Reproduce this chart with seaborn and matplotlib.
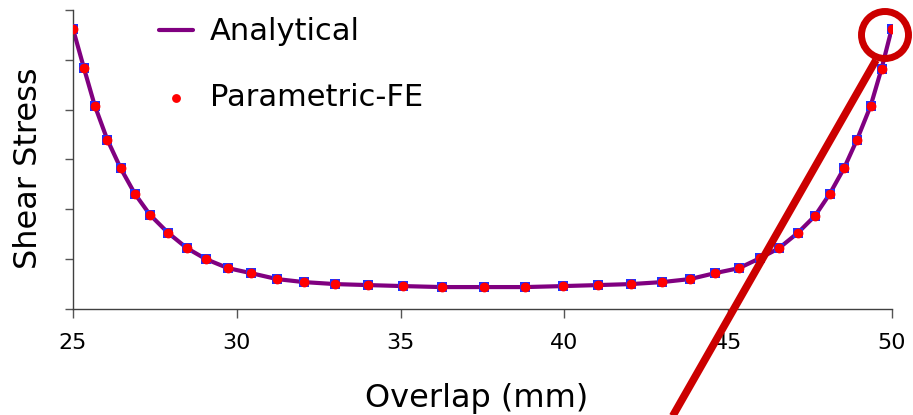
import numpy as np
import pandas as pd
import matplotlib
matplotlib.use("Agg")
import matplotlib.pyplot as plt
import seaborn as sns
from matplotlib.patches import Circle
from matplotlib.lines import Line2D

# ---- data ----
overlap_mm = [25.0, 25.34, 25.66, 26.04, 26.45, 26.89, 27.35, 27.90, 28.48, 29.06,
              29.73, 30.43, 31.23, 32.05, 33.00, 34.00, 35.07, 36.26, 37.55, 38.80,
              39.96, 41.03, 42.03, 42.98, 43.83, 44.60, 45.33, 45.97, 46.55, 47.13,
              47.65, 48.10, 48.54, 48.94, 49.35, 49.68, 49.99]
analytical = [5.62, 4.82, 4.09, 3.41, 2.83, 2.31, 1.89, 1.53, 1.22, 1.00,
              0.82, 0.72, 0.60, 0.54, 0.50, 0.48, 0.46, 0.44, 0.44, 0.44,
              0.46, 0.48, 0.50, 0.54, 0.60, 0.72, 0.82, 1.02, 1.22, 1.53,
              1.87, 2.31, 2.83, 3.41, 4.08, 4.82, 5.62]
parametric_fe = [5.62, 4.83, 4.08, 3.40, 2.82, 2.31, 1.89, 1.53, 1.22, 1.01,
                 0.82, 0.72, 0.61, 0.54, 0.51, 0.48, 0.46, 0.45, 0.45, 0.45,
                 0.46, 0.48, 0.50, 0.54, 0.61, 0.72, 0.82, 1.02, 1.22, 1.53,
                 1.87, 2.31, 2.83, 3.40, 4.08, 4.82, 5.62]
fe_reference = parametric_fe

x_ticks = [25, 30, 35, 40, 45, 50]
y_ticks = [0, 1, 2, 3, 4, 5, 6]

df = pd.DataFrame({"Overlap": overlap_mm, "Analytical": analytical,
                   "FE": parametric_fe, "Ref": fe_reference})

sns.set_style("ticks")
plt.rcParams['font.family'] = ['DejaVu Sans']
plt.rcParams['text.color'] = 'black'
plt.rcParams['axes.labelcolor'] = 'black'
plt.rcParams['xtick.labelcolor'] = 'black'

W, H = 913, 415
fig = plt.figure(figsize=(W / 100, H / 100), dpi=100)
ax = fig.add_axes([73 / W, 1 - 309 / H, (892 - 73) / W, (309 - 10) / H])

PURPLE = "#800080"
sns.lineplot(data=df, x="Overlap", y="Analytical", ax=ax, color=PURPLE,
             linewidth=3.0, label="Analytical", zorder=2)
sns.scatterplot(data=df, x="Overlap", y="Ref", ax=ax, marker="s", color="#2030ff",
                s=42, linewidth=0, legend=False, zorder=3)
sns.scatterplot(data=df, x="Overlap", y="FE", ax=ax, marker="o", color="#ff0000",
                s=50, linewidth=0, label="Parametric-FE", zorder=4)

ax.set_xlim(25, 50)
ax.set_ylim(0, 6)
ax.set_xticks(x_ticks)
ax.set_xticklabels([str(t) for t in x_ticks])
ax.set_yticks(y_ticks)
ax.set_yticklabels([])
ax.tick_params(axis="x", length=6.5, width=1.0, color="#555555", pad=11,
               labelsize=16, labelcolor="black")
ax.tick_params(axis="y", length=6, width=1.0, color="#555555")
for s in ["top", "right"]:
    ax.spines[s].set_visible(False)
for s in ["left", "bottom"]:
    ax.spines[s].set_color("#404040")
    ax.spines[s].set_linewidth(1.0)

ax.set_xlabel("Overlap (mm)", fontsize=23, color="black")
ax.set_ylabel("Shear Stress", fontsize=23, color="black")
ax.xaxis.set_label_coords((476.5 - 73) / (892 - 73), -(398 - 309) / (309 - 10))
ax.xaxis.label.set_va("center")
ax.yaxis.set_label_coords(-(73 - 29) / (892 - 73), (309 - 168) / (309 - 10))
ax.yaxis.label.set_va("center")

leg = ax.legend(loc="upper left", bbox_to_anchor=(138 / W, 1 + 4 / H),
                bbox_transform=fig.transFigure, frameon=False, fontsize=22,
                handlelength=1.1, handletextpad=0.55, labelspacing=1.2,
                borderpad=0.2, markerscale=0.9)
for t in leg.get_texts():
    t.set_color("black")

# red highlight annotation
RED = "#cc0000"
circ = Circle((885 / 100, (H - 35) / 100), 0.235, fill=False, edgecolor=RED,
              linewidth=5, transform=fig.dpi_scale_trans, clip_on=False, zorder=10)
fig.patches.append(circ)
ln = Line2D([876 / 100, 663 / 100], [(H - 60) / 100, (H - 433) / 100],
            color=RED, linewidth=5.5, transform=fig.dpi_scale_trans,
            solid_capstyle="butt", clip_on=False, zorder=10)
fig.lines.append(ln)

fig.savefig("out.png", dpi=100)
